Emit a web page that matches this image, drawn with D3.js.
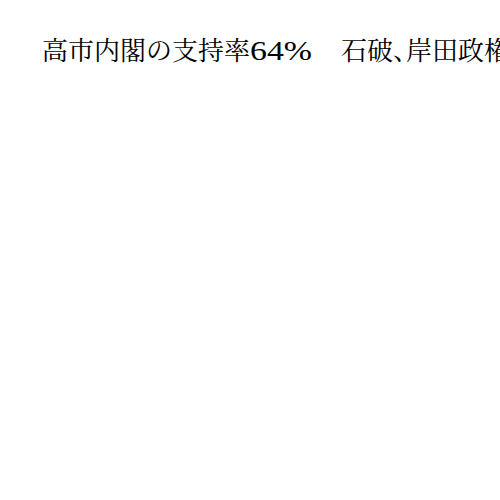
<!DOCTYPE html>
<html lang="ja">
<head>
<meta charset="UTF-8">
<title>高市内閣の支持率</title>
<script src="https://d3js.org/d3.v7.min.js"></script>
<style>
    body { margin: 0; background: #fff; overflow: hidden; }
    .title { font-family: "Noto Serif CJK JP", serif; font-size: 26px; fill: #000; }
    .num { font-family: "Liberation Serif", serif; font-size: 28px; }
    .half { font-feature-settings: "halt"; }
</style>
</head>
<body>
<script>
    // only the headline survives in the picture; no marks are visible below it
    const titleLead = "高市内閣の支持率";
    const titleRate = "64%";
    const titleTail = ["\u3000石破", "、", "岸田政権発足時を上回る"];

    const svg = d3.select("body").append("svg")
        .attr("width", 500)
        .attr("height", 500);

    const title = svg.append("text")
        .attr("class", "title")
        .attr("x", 42)
        .attr("y", 60)
        .attr("xml:space", "preserve");

    title.append("tspan").text(titleLead);
    // the rate is set in wide proportional figures
    title.append("tspan").attr("class", "num")
        .attr("textLength", 62)
        .attr("lengthAdjust", "spacingAndGlyphs")
        .text(titleRate);
    title.append("tspan").attr("dx", 3).text(titleTail[0]);
    title.append("tspan").attr("class", "half").text(titleTail[1]);
    title.append("tspan").text(titleTail[2]);
</script>
</body>
</html>
